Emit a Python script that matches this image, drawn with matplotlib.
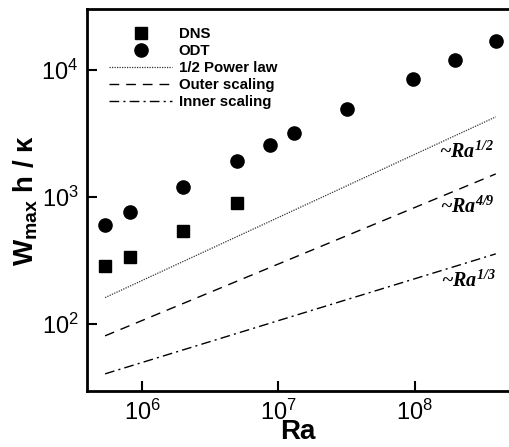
import numpy as np
import matplotlib
matplotlib.use("Agg")
import matplotlib.pyplot as plt

plt.rcParams['font.family'] = ['Liberation Sans', 'DejaVu Sans']
plt.rcParams['mathtext.fontset'] = 'custom'
plt.rcParams['mathtext.rm'] = 'Liberation Sans'
plt.rcParams['mathtext.it'] = 'Liberation Sans:italic'
plt.rcParams['mathtext.bf'] = 'Liberation Sans:bold'
plt.rcParams['mathtext.bfit'] = 'Liberation Serif:italic:bold'

# data
ra_dns = [5.36e5, 8.17e5, 2.0e6, 4.97e6]
w_dns = [286, 337, 540, 897]

ra_odt = [5.36e5, 8.17e5, 2.0e6, 4.97e6, 8.67e6, 1.30e7, 3.18e7, 9.67e7, 1.96e8, 3.92e8]
w_odt = [602, 762, 1199, 1919, 2564, 3190, 4934, 8490, 12000, 16900]

# end points of the scaling lines
ra_fit = [5.36e5, 3.92e8]
w_half = [161, 4270]
w_outer = [80.5, 1517]
w_inner = [40.4, 356]

fig = plt.figure(figsize=(5.09, 4.47), dpi=100)
ax = fig.add_axes([87/509, 1 - 391/447, (509 - 87)/509, (391 - 9)/447])

ax.plot(ra_dns, w_dns, 's', color='black', ms=8.5, label='DNS')
ax.plot(ra_odt, w_odt, 'o', color='black', ms=9.5, label='ODT')
ax.plot(ra_fit, w_half, color='#333333', lw=0.9, ls=(0, (1, 1)), label='1/2 Power law')
ax.plot(ra_fit, w_outer, color='black', lw=1.0, ls=(0, (7, 5)), label='Outer scaling')
ax.plot(ra_fit, w_inner, color='black', lw=1.0, ls=(0, (7, 3, 1.5, 3)), label='Inner scaling')

ax.set_xscale('log'); ax.set_yscale('log')
ax.set_xlim(3.95e5, 4.9e8)
ax.set_ylim(29.6, 3.02e4)
ax.minorticks_off()
ax.tick_params(direction='in', length=7, width=1.5, labelsize=17, pad=6)
for s in ['left', 'bottom', 'top']:
    ax.spines[s].set_linewidth(2)
ax.spines['right'].set_visible(False)

ax.set_xlabel('Ra', fontsize=20, fontweight='bold', labelpad=-4)
ax.set_ylabel(r'W$_{\mathbf{max}}$ h / κ', fontsize=20, fontweight='bold', labelpad=1)

ann = dict(fontsize=14.5, family='Liberation Serif', style='italic', fontweight='bold')
ax.text(1.50e8, 2030, r'~$\mathbfit{Ra}^{\mathbfit{1/2}}$', **ann)
ax.text(1.53e8, 750, r'~$\mathbfit{Ra}^{\mathbfit{4/9}}$', **ann)
ax.text(1.56e8, 195, r'~$\mathbfit{Ra}^{\mathbfit{1/3}}$', **ann)

leg = ax.legend(loc='upper left', bbox_to_anchor=(0.038, 0.968), frameon=False,
                prop={'size': 10.8, 'weight': 'bold'}, handlelength=4.2,
                handletextpad=0.45, labelspacing=0.2, borderaxespad=0)

fig.savefig('out.png', dpi=100)
